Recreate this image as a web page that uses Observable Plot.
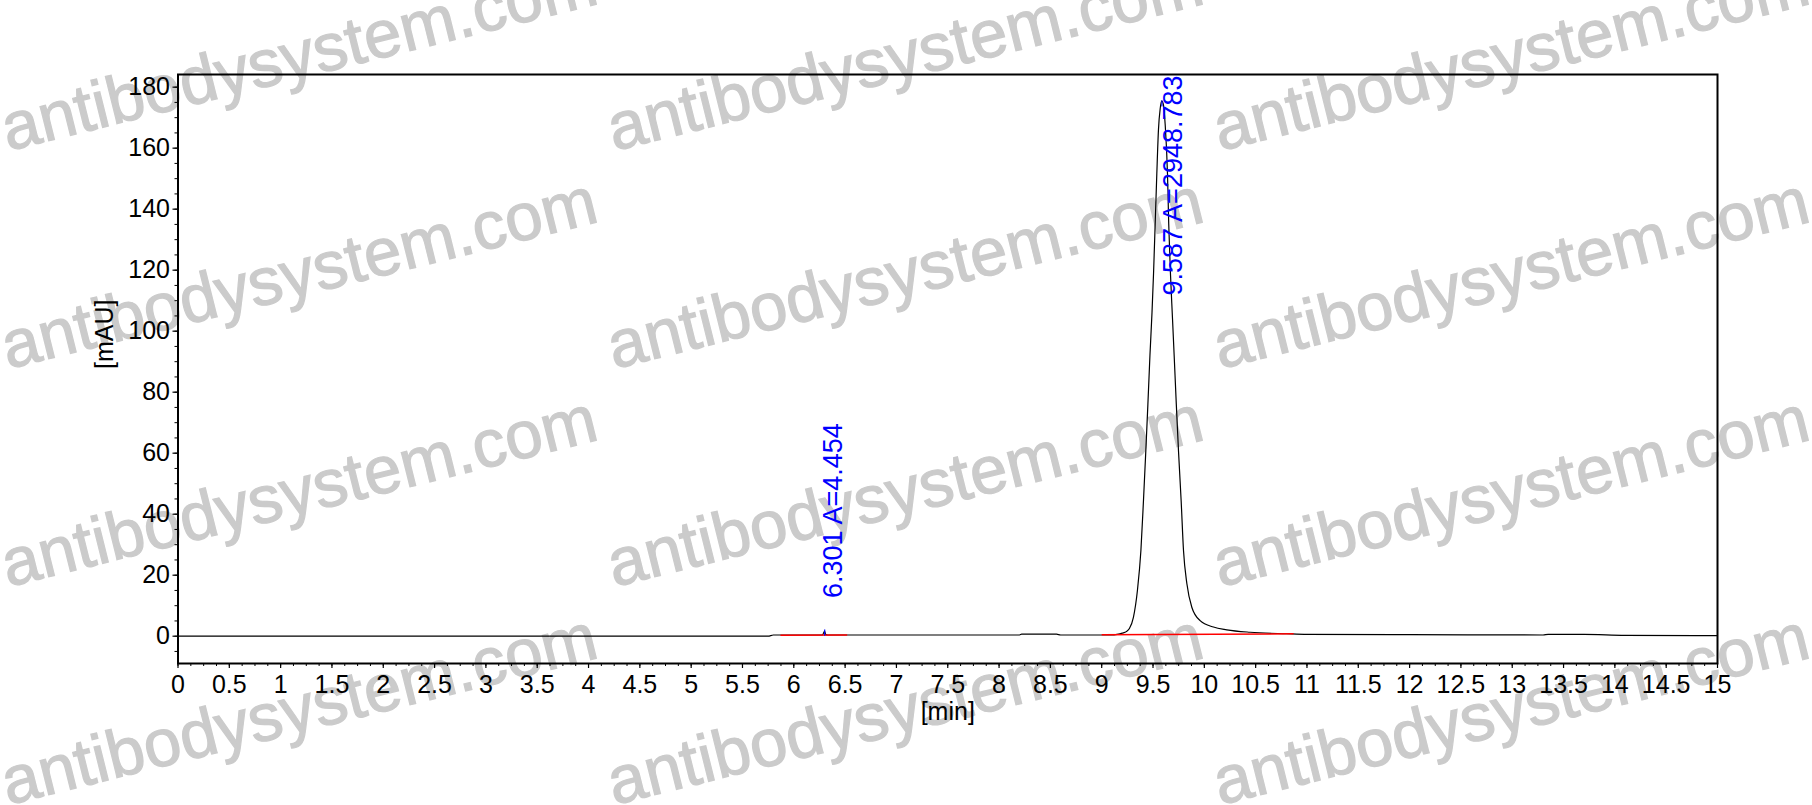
<!DOCTYPE html>
<html>
<head>
<meta charset="utf-8">
<script src="https://cdn.jsdelivr.net/npm/d3@7"></script>
<script src="https://cdn.jsdelivr.net/npm/@observablehq/plot@0.6"></script>
<style>
  html, body { margin: 0; padding: 0; background: #fff; }
  #wrap { position: relative; width: 1812px; height: 805px; overflow: hidden; background: #fff; }
  #wrap > svg { position: absolute; left: 0; top: 0; }
</style>
</head>
<body>
<div id="wrap"></div>
<script>
// ---- data ----
const times  = [0, 5.75, 5.8, 6.28, 6.292, 6.301, 6.31, 6.33, 8.2, 8.22, 8.56, 8.6, 9.10, 9.15, 9.20, 9.24,
                9.270, 9.309, 9.348, 9.382, 9.407, 9.430, 9.45, 9.47, 9.49, 9.505, 9.521, 9.537, 9.553, 9.570,
                9.586, 9.600, 9.618, 9.641, 9.653, 9.670, 9.690, 9.706, 9.727, 9.748, 9.774, 9.797, 9.830,
                9.878, 9.959, 10.089, 10.219, 10.446, 10.8, 11.0, 12.0, 13.3, 13.35, 13.7, 14.1, 15];
const signal = [0, 0, 0.4, 0.4, 1.2, 1.6, 0.6, 0.4, 0.4, 0.65, 0.65, 0.4, 0.4, 0.6, 1.0, 1.5,
                2.5, 6.2, 15.0, 28.1, 44.5, 60.9, 76, 92, 106, 118.8, 135.2, 151.6, 166, 173,
                175.5, 174.5, 168, 151.6, 135.2, 118.8, 104, 92, 76, 60.9, 44.5, 28.1, 17.2,
                9.5, 5.1, 3.0, 2.1, 1.3, 0.8, 0.6, 0.5, 0.4, 0.6, 0.6, 0.3, 0.2];

const peakRT     = [6.301, 9.587];
const peakArea   = ["4.454", "2948.783"];
const peakHeight = [2.0, 175.5];

// integration baselines (start time, start value, end time, end value)
const baseStart  = [5.87, 9.00];
const baseStartV = [0.3, 0.45];
const baseEnd    = [6.52, 10.87];
const baseEndV   = [0.4, 0.8];

const xTicks = [0, 0.5, 1, 1.5, 2, 2.5, 3, 3.5, 4, 4.5, 5, 5.5, 6, 6.5, 7, 7.5, 8, 8.5, 9, 9.5, 10, 10.5, 11, 11.5, 12, 12.5, 13, 13.5, 14, 14.5, 15];
const yTicks = [0, 20, 40, 60, 80, 100, 120, 140, 160, 180];
const xLabel = "[min]";
const yLabel = "[mAU]";
const watermark = "antibodysystem.com";

// ---- build tables ----
const trace = times.map((t, i) => ({t, v: signal[i]}));
const peaks = peakRT.map((rt, i) => ({rt, area: peakArea[i], h: peakHeight[i], label: `${rt.toFixed(3)} A=${peakArea[i]}`}));
const baselines = baseStart.map((s, i) => ({x1: s, y1: baseStartV[i], x2: baseEnd[i], y2: baseEndV[i]}));
const xMinor = d3.range(0, 15.0001, 0.125);
const yMinor = d3.range(-5, 184, 5);

const font = "Arial, 'Liberation Sans', sans-serif";
const blue = "#0000ff";

const chart = Plot.plot({
  width: 1812,
  height: 805,
  marginLeft: 177.5,
  marginRight: 95,
  marginTop: 74,
  marginBottom: 142,
  style: {background: "transparent", fontFamily: font, fontSize: "25px", color: "black"},
  x: {domain: [0, 15]},
  y: {domain: [-8.95, 184.15]},
  marks: [
    Plot.axisY(yMinor, {tickSize: 3, text: null, label: null, strokeWidth: 1}),
    Plot.axisY(yTicks, {tickSize: 5, tickPadding: 3, label: null, fontSize: 25, strokeWidth: 1.2}),
    Plot.axisX(xMinor, {tickSize: 3, text: null, label: null, strokeWidth: 1}),
    Plot.axisX(xTicks, {tickSize: 5, tickPadding: 7, label: null, fontSize: 25, strokeWidth: 1.2, tickFormat: d => String(d)}),
    Plot.line(trace, {x: "t", y: "v", stroke: "black", strokeWidth: 1.2, curve: "monotone-x"}),
    Plot.link(baselines, {x1: "x1", y1: "y1", x2: "x2", y2: "y2", stroke: "red", strokeWidth: 1.5}),
    Plot.ruleX(peaks, {x: "rt", y1: d => d.h - 2, y2: "h", stroke: blue, strokeWidth: 1.2}),
    // small peaks: label sits above the apex
    Plot.text(peaks.filter(d => d.h < 100), {x: "rt", y: "h", text: "label", rotate: -90, textAnchor: "start",
      dx: 9, dy: -32, fill: blue, fontSize: 27, fontFamily: font}),
    // tall peaks: label pushed against the top of the frame
    Plot.text(peaks.filter(d => d.h >= 100), {x: "rt", frameAnchor: "top", text: "label", rotate: -90, textAnchor: "end",
      dx: 1, dy: 1, fill: blue, fontSize: 27, fontFamily: font}),
    Plot.text([xLabel], {text: d => d, frameAnchor: "bottom", dy: 56, fontSize: 25, fill: "black", fontFamily: font}),
    Plot.text([yLabel], {text: d => d, frameAnchor: "left", dx: -73, rotate: -90, fontSize: 25, fill: "black", fontFamily: font}),
    Plot.frame({stroke: "black", strokeWidth: 2})
  ]
});

// ---- watermark layer (behind the chart) ----
const wm = d3.create("svg").attr("width", 1812).attr("height", 805);
for (let r = 0; r < 4; r++) {
  for (let c = 0; c < 3; c++) {
    wm.append("text")
      .attr("transform", `translate(${8 + c * 606},${151 + r * 218}) rotate(-14)`)
      .attr("font-family", font)
      .attr("font-size", 67)
      .attr("fill", "#cbcbcb")
      .attr("stroke", "#cbcbcb")
      .attr("stroke-width", 1.2)
      .text(watermark);
  }
}
const wrap = document.getElementById("wrap");
wrap.appendChild(wm.node());
wrap.appendChild(chart);
</script>
</body>
</html>
